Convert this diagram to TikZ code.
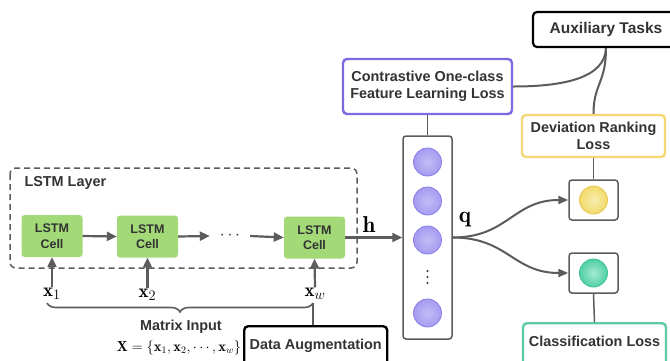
\documentclass[tikz,border=0pt]{standalone}
\usepackage{fontspec}
\newfontfamily\lab{Liberation Sans}
\usetikzlibrary{arrows.meta,decorations.pathreplacing,calc}
\definecolor{lnc}{HTML}{5C5C5C}
\definecolor{txt}{HTML}{333333}
\definecolor{cellg}{HTML}{A3D977}
\definecolor{purp}{HTML}{7B6BE0}
\definecolor{yel}{HTML}{F7D774}
\definecolor{teal}{HTML}{5CC9A7}
\definecolor{pbody}{HTML}{A49BF0}
\definecolor{pedge}{HTML}{8A7DE8}
\definecolor{pcent}{HTML}{C4BDF6}
\definecolor{ybody}{HTML}{F1DA6A}
\definecolor{yedge}{HTML}{E6C94E}
\definecolor{ycent}{HTML}{F8EDB0}
\definecolor{tbody}{HTML}{4FCFA6}
\definecolor{tedge}{HTML}{3CBF95}
\definecolor{tcent}{HTML}{A6EAD3}
\begin{document}
\begin{tikzpicture}[x=1pt,y=-1pt,
  lbl/.style={font=\lab\bfseries\fontsize{14.4}{17.3}\selectfont, text=txt, align=center},
  lossbox/.style={lbl, rectangle, rounded corners=4pt, line width=2.4pt, fill=white},
  cellbox/.style={rectangle, rounded corners=3pt, fill=cellg, minimum width=61pt, minimum height=42pt,
    font=\lab\bfseries\fontsize{12.5}{15.5}\selectfont, text=txt, align=center, inner sep=0pt},
  arr/.style={draw=lnc, line width=2.2pt, -{Triangle[length=10pt,width=9pt]}},
  carr/.style={draw=lnc, line width=2pt, -{Triangle[length=10pt,width=8pt]}},
  ln/.style={draw=lnc, line width=1.5pt},
  cln/.style={draw=lnc, line width=2pt},
  neuron/.style={circle, minimum size=28pt, inner sep=0pt, line width=0.8pt},
  smallbox/.style={rectangle, draw=lnc, line width=1.5pt, rounded corners=3pt, minimum width=49pt, minimum height=40pt, fill=white},
  mathlbl/.style={font=\fontsize{19}{22}\selectfont, inner sep=1pt},
  biglbl/.style={font=\fontsize{23}{27}\selectfont, inner sep=0pt}
]
\useasboundingbox (0,0) rectangle (670,360);
\clip (0,0) rectangle (670,360);
\fill[white] (0,0) rectangle (670,360);

% LSTM layer
\draw[lnc, line width=1.5pt, dash pattern=on 6pt off 4pt, rounded corners=6pt] (10,168) rectangle (357,268);
\node[lbl, anchor=west] (layer) at (21,183) {LSTM Layer};

\node[cellbox] (c1) at (52,236) {LSTM\\Cell};
\node[cellbox] (c2) at (147.5,236.5) {LSTM\\Cell};
\node[cellbox] (c3) at (314.5,237.5) {LSTM\\Cell};
\node[font=\fontsize{16}{19}\selectfont, text=txt, inner sep=0pt, minimum width=40pt] (dots) at (230,236) {$\cdots$};

\draw[arr] (c1.east) -- (c2.west);
\draw[arr] (c2.east) -- (dots.west);
\draw[arr] (dots.east) -- (c3.west);

% inputs
\node[mathlbl] (x1) at (52,294) {$\mathbf{x}_1$};
\node[mathlbl] (x2) at (147.5,295) {$\mathbf{x}_2$};
\node[mathlbl] (xw) at (315,294) {$\mathbf{x}_w$};
\draw[arr] (x1.north) -- (c1.south);
\draw[arr] (x2.north) -- (c2.south);
\draw[arr] (xw.north) -- (c3.south);

\coordinate (bl) at (47,303);
\coordinate (br) at (313,303);
\draw[lnc, line width=1.6pt, decorate, decoration={brace, amplitude=9pt}] (br) -- (bl);

\node[lbl] (mi) at (181,327) {Matrix Input};
\node[font=\fontsize{14.5}{17}\selectfont, inner sep=0pt] (eq) at (179,348) {$\mathbf{X}=\{\mathbf{x}_1,\mathbf{x}_2,\cdots,\mathbf{x}_w\}$};

\node[lossbox, draw=black, minimum width=143pt, minimum height=40pt, text height=10pt, text depth=4pt, anchor=north west] (da) at (243,325) {Data Augmentation};
\draw[ln] (br) -- (br |- da.north);

% vector
\node[rectangle, draw=lnc, line width=1.5pt, rounded corners=3pt, minimum width=49pt, minimum height=203pt, fill=white] (vec) at (427.5,237.5) {};
\foreach \yy/\nm in {162/n1,201/n2,240/n3,313/n4}{
  \node[neuron, draw=pedge, inner color=pcent, outer color=pbody] (\nm) at (427.5,\yy) {};
}
\coordinate (vd) at (427.5,277);
\foreach \dy in {-6,0,6}{ \fill[black!80] ($(vd)+(0,\dy)$) circle (1.1pt); }

\draw[arr] (c3.east) -- (vec.west);
\node[biglbl] (h) at (369,225) {$\mathbf{h}$};
\node[biglbl] (q) at (465,220) {$\mathbf{q}$};

% contrastive
\node[lossbox, draw=purp, minimum width=169pt, minimum height=55pt] (con) at (427.5,86.5) {Contrastive One-class\\Feature Learning Loss};
\draw[ln] (con.south) -- (vec.north);

% auxiliary
\node[lossbox, draw=black, line width=2.2pt, font=\lab\bfseries\fontsize{15.5}{18}\selectfont, minimum width=146pt, minimum height=35pt] (aux) at (606,29.5) {Auxiliary Tasks};

% deviation
\node[lossbox, draw=yel, minimum width=143pt, minimum height=42pt] (dev) at (593.5,136) {Deviation Ranking\\Loss};
\draw[cln] (aux.south) .. controls +(-1,30) and +(50,0) .. (con.east);
\draw[cln] (aux.south) .. controls +(0,35) and +(0,-30) .. (dev.north);

% small boxes
\node[smallbox] (sb1) at (593.5,200) {};
\node[neuron, draw=yedge, inner color=ycent, outer color=ybody] (ny) at (593.5,200) {};
\node[smallbox] (sb2) at (593.5,273) {};
\node[neuron, draw=tedge, inner color=tcent, outer color=tbody] (nt) at (593.5,273) {};
\draw[ln] (dev.south) -- (sb1.north);

\node[lossbox, draw=teal, minimum width=143pt, minimum height=42pt, text height=10pt, text depth=6pt, anchor=north] (cls) at (594.5,322) {Classification Loss};
\draw[ln] (sb2.south) -- (cls.north);

\draw[carr] (vec.east) .. controls +(55,0) and +(-55,0) .. (sb1.west);
\draw[carr] (vec.east) .. controls +(55,0) and +(-55,0) .. (sb2.west);
\end{tikzpicture}
\end{document}
